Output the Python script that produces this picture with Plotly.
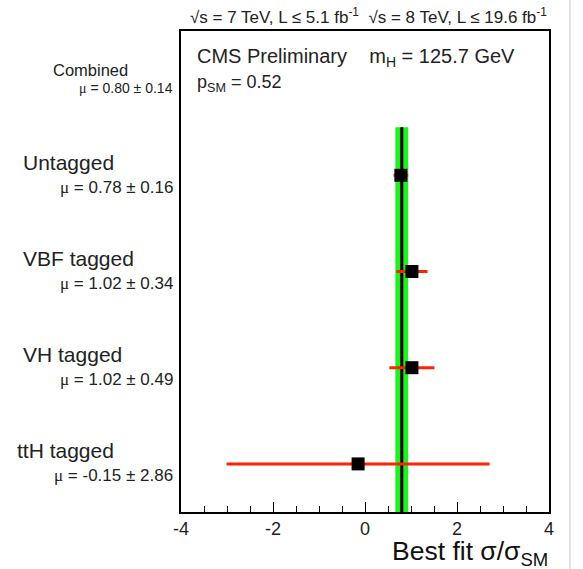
import plotly.graph_objects as go

categories = ["ttH tagged", "VH tagged", "VBF tagged", "Untagged"]
mu_values = [-0.15, 1.02, 1.02, 0.78]
mu_errors = [2.86, 0.49, 0.34, 0.16]
combined_mu = 0.80
combined_err = 0.14
y_slots = [0, 1, 2, 3]
combined_slot = 4
x_ticks = [-4, -2, 0, 2, 4]

FONT = "Liberation Sans, Arial, Helvetica, sans-serif"
W, H = 583, 569
L, R, T, B = 181, 34, 31, 57

fig = go.Figure()
fig.add_trace(go.Scatter(
    x=mu_values, y=y_slots, mode="markers",
    marker=dict(symbol="square", size=13, color="black"),
    error_x=dict(type="data", array=mu_errors, color="#ff2200", thickness=3, width=0),
    showlegend=False, hoverinfo="skip"))

shapes = [
    dict(type="rect", xref="x", yref="y", x0=combined_mu - combined_err, x1=combined_mu + combined_err,
         y0=-0.5, y1=3.5, fillcolor="#22ee22", line=dict(width=0), layer="below"),
    dict(type="line", xref="x", yref="y", x0=combined_mu, x1=combined_mu, y0=-0.5, y1=3.5,
         line=dict(color="black", width=3), layer="below"),
    dict(type="line", xref="paper", yref="paper", x0=(570 - L) / (W - L - R), x1=(570 - L) / (W - L - R),
         y0=-B / (H - T - B), y1=1 + T / (H - T - B), line=dict(color="#cccccc", width=1)),
]

def px_x(p):
    return (p - L) / (W - L - R)

def px_y(p):
    return 1 - (p - T) / (H - T - B)

MU = '<span style="font-family:Liberation Serif, serif">μ</span>'

ann = []
for cat, m, e, s in zip(categories, mu_values, mu_errors, y_slots):
    ann.append(dict(x=px_x(21 if cat != "ttH tagged" else 15), xref="paper", y=s, yref="y", yshift=13,
                    text=cat, showarrow=False, xanchor="left", yanchor="middle",
                    font=dict(family=FONT, size=21, color="#222222")))
    ann.append(dict(x=px_x(175), xref="paper", y=s, yref="y", yshift=-12,
                    text=f"{MU} = {m:.2f} ± {e:.2f}", showarrow=False, xanchor="right", yanchor="middle",
                    font=dict(family=FONT, size=17, color="#222222")))
ann.append(dict(x=px_x(90), xref="paper", y=combined_slot, yref="y", yshift=9,
                text="Combined", showarrow=False, xanchor="center", yanchor="middle",
                font=dict(family=FONT, size=16.5, color="#222222")))
ann.append(dict(x=px_x(175), xref="paper", y=combined_slot, yref="y", yshift=-9,
                text=f"{MU} = {combined_mu:.2f} ± {combined_err:.2f}", showarrow=False, xanchor="right",
                yanchor="middle", font=dict(family=FONT, size=14, color="#222222")))
ann.append(dict(x=px_x(188), xref="paper", y=px_y(16), yref="paper",
                text="√s = 7 TeV, L ≤ 5.1 fb<sup>-1</sup>  √s = 8 TeV, L ≤ 19.6 fb<sup>-1</sup>",
                showarrow=False, xanchor="left", yanchor="middle",
                font=dict(family=FONT, size=17, color="#222222")))
ann.append(dict(x=px_x(195), xref="paper", y=px_y(57), yref="paper",
                text="CMS Preliminary    m<sub>H</sub> = 125.7 GeV",
                showarrow=False, xanchor="left", yanchor="middle",
                font=dict(family=FONT, size=20, color="#222222")))
ann.append(dict(x=px_x(195), xref="paper", y=px_y(84), yref="paper",
                text="p<sub>SM</sub> = 0.52",
                showarrow=False, xanchor="left", yanchor="middle",
                font=dict(family=FONT, size=18, color="#222222")))
ann.append(dict(x=px_x(550), xref="paper", y=px_y(553), yref="paper",
                text="Best fit σ/σ<sub>SM</sub>",
                showarrow=False, xanchor="right", yanchor="middle",
                font=dict(family=FONT, size=26.5, color="#111111")))

fig.update_layout(
    width=W, height=H, margin=dict(l=L, r=R, t=T, b=B),
    plot_bgcolor="white", paper_bgcolor="white",
    shapes=shapes, annotations=ann,
    xaxis=dict(range=[-4, 4], tickvals=x_ticks, ticktext=[str(v) for v in x_ticks],
               ticks="inside", ticklen=10, tickwidth=1, tickcolor="black",
               minor=dict(dtick=0.5, ticks="inside", ticklen=6, tickcolor="black", showgrid=False),
               showgrid=False, zeroline=False, showline=True, linecolor="black", linewidth=1.5,
               mirror=True, tickfont=dict(family=FONT, size=18, color="#222222")),
    yaxis=dict(range=[-0.5, 4.5], showticklabels=False, ticks="", showgrid=False, zeroline=False,
               showline=True, linecolor="black", linewidth=1.5, mirror=True),
)
fig.write_html("out.html")
